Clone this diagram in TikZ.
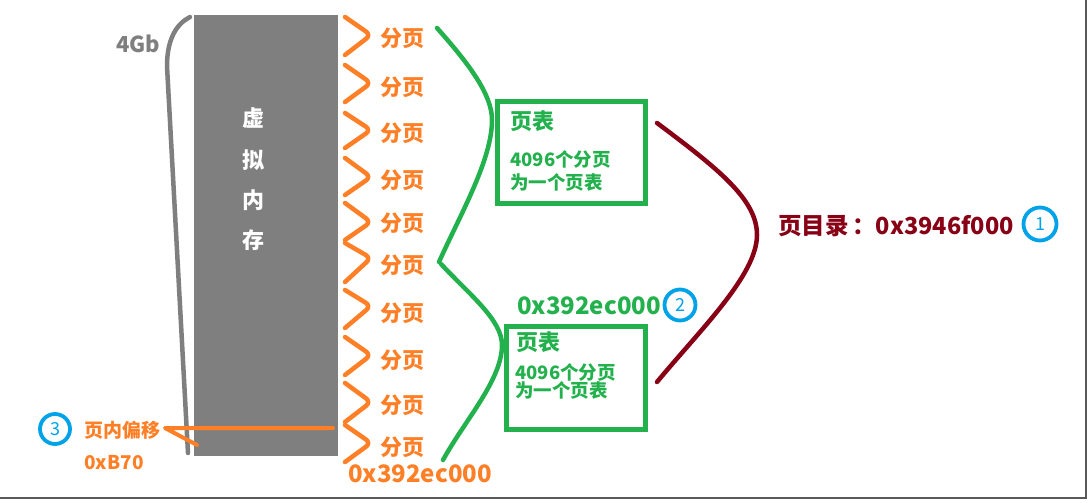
\documentclass[tikz,border=0pt]{standalone}
\usepackage{fontspec}
\setmainfont{Noto Sans CJK SC}
\definecolor{po}{HTML}{FF7F27}
\definecolor{pg}{HTML}{22B14C}
\definecolor{pr}{HTML}{880015}
\definecolor{pb}{HTML}{00A2E8}
\definecolor{pgray}{HTML}{7F7F7F}
\tikzset{
  lbl/.style={inner sep=0, font=\bfseries\fontsize{22}{24}\selectfont},
  pagelbl/.style={lbl, text=po},
  chev/.style={draw=po, line width=4.5pt, line cap=round, line join=round, rounded corners=6},
  small/.style={inner sep=0, anchor=west, text=pg, font=\bfseries\fontsize{18.5}{20}\selectfont},
  ttl/.style={inner sep=0, anchor=west, text=pg, font=\bfseries\fontsize{22}{24}\selectfont},
  numc/.style={circle, draw=pb, line width=3.8pt, inner sep=0, text=pb, font=\fontsize{18}{18}\selectfont},
  vlbl/.style={inner sep=0, text=white, font=\bfseries\fontsize{22}{24}\selectfont},
  brace/.style={line width=4.5pt, line cap=round},
}
\begin{document}
\begin{tikzpicture}[x=1pt,y=-1pt]
\useasboundingbox[fill=white] (0,0) rectangle (1089,503);
% frame shadow
\draw[gray!70!black, line width=2.5pt] (0,498) -- (1086,498) -- (1086,0);
% virtual memory block
\node[fill=pgray, inner sep=0, minimum width=144, minimum height=441, anchor=north west] (vm) at (194,15) {};
\node[vlbl] (v1) at (253,118) {虚};
\node[vlbl] (v2) at (253,160) {拟};
\node[vlbl] (v3) at (253,200) {内};
\node[vlbl] (v4) at (253,240) {存};
% 4Gb bracket
\draw[pgray, brace] (190,17) .. controls (176,24) and (167,40) .. (167,66) -- (188,453);
\node[lbl, text=pgray] (g4) at (138,44) {4Gb};
% page labels
\foreach \i/\y in {1/38,2/87,3/133,4/180,5/223,6/265,7/313,8/360,9/405,10/447}{
  \node[pagelbl] (p\i) at (402,\y) {分页};
}
% chevrons
\foreach \s/\v/\e in {17/35/55, 65/83/102, 113/130/148, 158/177/195, 203/222/240, 243/258/282, 290/306/328, 337/355/375, 383/402/422, 425/443/462}{
  \draw[chev] (345,\s) -- (371,\v) -- (345,\e);
}
% green braces
\draw[pg, brace] (437,28) .. controls (470,65) and (492,95) .. (492,120) .. controls (492,160) and (460,215) .. (439,262);
\draw[pg, brace] (441,264) .. controls (470,295) and (502,320) .. (502,345) .. controls (502,380) and (465,420) .. (443,460);
% page table boxes
\node[draw=pg, line width=4.5pt, inner sep=0, minimum width=148, minimum height=102, anchor=north west] (t1) at (495,99) {};
\node[ttl] (t1a) at (510,121) {页表};
\node[small] (t1b) at (510,159) {4096个分页};
\node[small] (t1c) at (510,182) {为一个页表};
\node[draw=pg, line width=4.5pt, inner sep=0, minimum width=139, minimum height=103, anchor=north west] (t2) at (504,324) {};
\node[ttl] (t2a) at (516,342) {页表};
\node[small] (t2b) at (515,372) {4096个分页};
\node[small] (t2c) at (515,390) {为一个页表};
\node[lbl, text=pg, font=\bfseries\fontsize{24}{26}\selectfont] (addr2) at (589,306) {0x392ec000};
\node[numc, minimum size=31] (c2) at (680,305) {2};
% directory brace
\draw[pr, brace] (657,123) .. controls (720,170) and (757,200) .. (757,235) .. controls (757,275) and (700,330) .. (657,382);
\node[lbl, text=pr, font=\bfseries\fontsize{23.5}{25}\selectfont] (dir) at (896,226) {页目录\kern0.15em：0x3946f000};
\node[numc, minimum size=33] (c1) at (1040,224) {1};
% bottom address
\node[lbl, text=po, font=\bfseries\fontsize{24}{26}\selectfont] (addr0) at (420,474) {0x392ec000};
% offset pointer
\coordinate (o1) at (333,428);
\coordinate (o2) at (165,428);
\coordinate (o3) at (197,445);
\draw[po, line width=4pt, line cap=round, line join=round] (o1) -- (o2) -- (o3);
\node[lbl, text=po, font=\bfseries\fontsize{19}{21}\selectfont] (off) at (122,430) {页内偏移};
\node[lbl, text=po, font=\bfseries\fontsize{19}{21}\selectfont] (offv) at (114,463) {0xB70};
\node[numc, minimum size=30] (c3) at (55,429) {3};
\end{tikzpicture}
\end{document}
